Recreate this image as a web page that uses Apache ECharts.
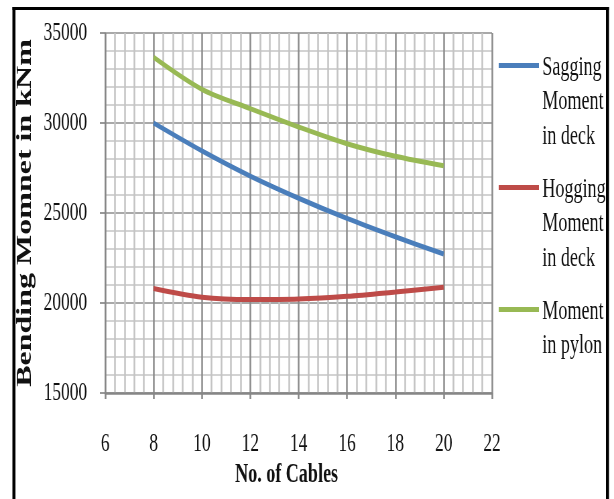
<!DOCTYPE html>
<html>
<head>
<meta charset="utf-8">
<script src="https://cdn.jsdelivr.net/npm/echarts@6/dist/echarts.min.js"></script>
<style>
html,body{margin:0;padding:0;background:#fff;overflow:hidden;width:614px;height:499px;}
#main{width:916px;height:499px;transform:scaleX(0.6703);transform-origin:0 0;}
</style>
</head>
<body>
<div id="main"></div>
<script>
// ---- data ----
var cables = [8, 10, 12, 14, 16, 18, 20];
var saggingDeck = [30000, 28450, 27050, 25820, 24700, 23680, 22720];
var hoggingDeck = [20800, 20320, 20190, 20220, 20370, 20610, 20870];
var momentPylon = [33650, 31870, 30800, 29780, 28850, 28150, 27620];
var seriesNames = ['Sagging\nMoment\nin deck', 'Hogging\nMoment\nin deck', 'Moment\nin pylon'];
var xTicks = {min: 6, max: 22, interval: 2};
var yTicks = {min: 15000, max: 35000, interval: 5000};
var xTitle = 'No. of Cables';
var yTitle = 'Bending Momnet in kNm';

function pairs(xs, ys) { return xs.map(function (x, i) { return [x, ys[i]]; }); }

var SERIF = '"Liberation Serif", "Times New Roman", serif';
var colors = ['#4A7EBB', '#BE4B48', '#98B954'];
var legendIcon = 'path://M0,0L0,0ZM0,13L60,13L60,18L0,18ZM0,104L0,104Z';

var chart = echarts.init(document.getElementById('main'));
var option = {
  animation: false,
  backgroundColor: '#ffffff',
  color: colors,
  grid: {left: 157, right: 182, top: 33, bottom: 106, containLabel: false},
  legend: {
    orient: 'vertical',
    left: 744,
    top: 50,
    padding: 0,
    itemGap: 18,
    itemWidth: 60,
    itemHeight: 104,
    icon: legendIcon,
    itemStyle: {borderWidth: 0},
    textStyle: {fontFamily: SERIF, fontSize: 27, lineHeight: 34.5, color: '#111'},
    formatter: function (name) {
      // pad every entry to three text lines so the key line sits on the first line
      var lines = name.split('\n').length;
      return lines < 3 ? name + '\n ' : name;
    },
    data: seriesNames
  },
  xAxis: {
    type: 'value',
    min: xTicks.min, max: xTicks.max, interval: xTicks.interval,
    name: xTitle,
    nameLocation: 'middle',
    nameGap: 61,
    nameTextStyle: {fontFamily: SERIF, fontSize: 27, fontWeight: 'bold', color: '#111', padding: [0, 36, 0, 0]},
    axisLine: {show: true, onZero: false, lineStyle: {color: '#868686', width: 2.5}},
    axisTick: {show: true, length: 6, lineStyle: {color: '#868686', width: 2.5}},
    axisLabel: {fontFamily: SERIF, fontSize: 26, color: '#111', margin: 38},
    splitLine: {show: true, lineStyle: {color: '#8c8c8c', width: 2.5}},
    minorTick: {show: false, splitNumber: 5},
    minorSplitLine: {show: true, lineStyle: {color: '#c4c4c4', width: 2.5}}
  },
  yAxis: {
    type: 'value',
    min: yTicks.min, max: yTicks.max, interval: yTicks.interval,
    name: yTitle,
    nameLocation: 'middle',
    nameGap: 86,
    nameTextStyle: {fontFamily: SERIF, fontSize: 32, fontWeight: 'bold', color: '#111'},
    axisLine: {show: true, lineStyle: {color: '#868686', width: 1.7}},
    axisTick: {show: true, length: 8, lineStyle: {color: '#868686', width: 1.7}},
    axisLabel: {fontFamily: SERIF, fontSize: 26, color: '#111', margin: 27, formatter: function (v) { return String(v); }},
    splitLine: {show: true, lineStyle: {color: '#8c8c8c', width: 1.7}},
    minorTick: {show: false, splitNumber: 5},
    minorSplitLine: {show: true, lineStyle: {color: '#c4c4c4', width: 1.7}}
  },
  series: [
    {name: seriesNames[0], type: 'line', smooth: 0.3, showSymbol: false, symbol: 'none', data: pairs(cables, saggingDeck), lineStyle: {width: 5, color: colors[0]}, itemStyle: {color: colors[0]}},
    {name: seriesNames[1], type: 'line', smooth: 0.3, showSymbol: false, symbol: 'none', data: pairs(cables, hoggingDeck), lineStyle: {width: 5, color: colors[1]}, itemStyle: {color: colors[1]}},
    {name: seriesNames[2], type: 'line', smooth: 0.3, showSymbol: false, symbol: 'none', data: pairs(cables, momentPylon), lineStyle: {width: 5, color: colors[2]}, itemStyle: {color: colors[2]}}
  ],
  graphic: [
    {type: 'rect', silent: true, shape: {x: 18.5, y: 7, width: 890, height: 3}, style: {fill: '#000'}},
    {type: 'rect', silent: true, shape: {x: 18.5, y: 7, width: 4.5, height: 500}, style: {fill: '#000'}},
    {type: 'rect', silent: true, shape: {x: 904, y: 7, width: 4.5, height: 500}, style: {fill: '#000'}}
  ]
};
chart.setOption(option);
</script>
</body>
</html>
